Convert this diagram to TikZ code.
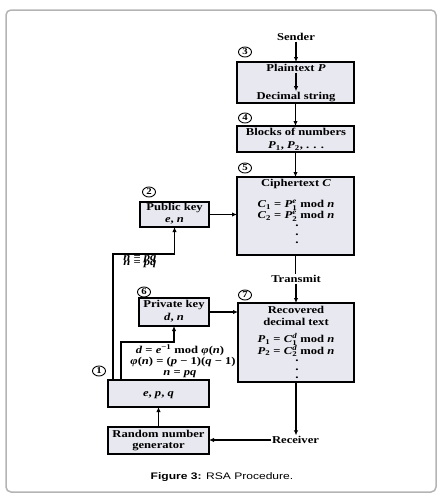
\documentclass[tikz,border=0pt]{standalone}
\usepackage{amsmath}
\usepackage{fontspec}
\setmainfont{Liberation Serif}[FakeStretch=1.2]
\newfontfamily\capfont{Liberation Sans}[FakeStretch=1.27]
\usetikzlibrary{arrows.meta,shapes.geometric}
\newcommand{\vi}[1]{\textbf{\textit{#1}}}
\definecolor{boxfill}{RGB}{232,232,240}
\definecolor{framegray}{RGB}{180,180,180}
\begin{document}
\begin{tikzpicture}[x=1pt,y=-1pt,
  every node/.style={font=\fontsize{10.5}{12}\selectfont\bfseries, inner sep=1pt, outer sep=0pt},
  box/.style={draw, line width=1.2pt, fill=boxfill},
  num/.style={draw, ellipse, line width=0.9pt, inner sep=0pt, minimum width=13pt, minimum height=10pt, font=\fontsize{9}{9}\selectfont\bfseries},
  arr/.style={-{Latex[length=5pt,width=4.5pt]}, line width=1.2pt},
  ln/.style={line width=1.2pt},
  dot/.style={inner sep=0pt, font=\fontsize{11}{11}\selectfont\bfseries}
]
\useasboundingbox (0,0) rectangle (443,498);
\draw[framegray, line width=1.5pt, rounded corners=5pt] (6,10) rectangle (436,492);

% boxes
\node[box, minimum width=117pt, minimum height=41pt] (A) at (295.5,82.5) {};
\node[box, minimum width=117pt, minimum height=26pt] (B) at (295.5,139) {};
\node[box, minimum width=117pt, minimum height=78pt] (cipher) at (295.5,216) {};
\node[box, minimum width=116pt, minimum height=79pt] (rec) at (296,342.5) {};
\node[box, minimum width=69pt, minimum height=25pt] (pub) at (174.5,214.5) {};
\node[box, minimum width=70pt, minimum height=28pt] (priv) at (174,312) {};
\node[box, minimum width=101pt, minimum height=27pt] (epq) at (158.5,393.5) {};
\node[box, minimum width=101pt, minimum height=27pt] (rng) at (158.5,440.5) {};

% texts
\node (sender) at (296,37) {Sender};
\node (pt) at (296,68) {Plaintext \vi{P}};
\node (ds) at (296,97) {Decimal string};
\node at (296,132) {Blocks of numbers};
\node at (296,146) {\vi{P}$_{\textbf{1}}$, \vi{P}$_{\textbf{2}}$, . . .};
\node at (296,184) {Ciphertext \vi{C}};
\node at (296,205) {\vi{C}$_{\textbf{1}}$ = \vi{P}$_{\textbf{1}}^{\vi{e}}$ mod \vi{n}};
\node at (296,216.5) {\vi{C}$_{\textbf{2}}$ = \vi{P}$_{\textbf{2}}^{\vi{e}}$ mod \vi{n}};
\node[dot] at (297,226) {.};
\node[dot] at (297,234.5) {.};
\node[dot] at (297,243) {.};
\node (transmit) at (296,279) {Transmit};
\node at (296,310) {Recovered};
\node at (296,322) {decimal text};
\node at (296,339.5) {\vi{P}$_{\textbf{1}}$ = \vi{C}$_{\textbf{1}}^{\vi{d}}$ mod \vi{n}};
\node at (296,351) {\vi{P}$_{\textbf{2}}$ = \vi{C}$_{\textbf{2}}^{\vi{d}}$ mod \vi{n}};
\node[dot] at (297,361) {.};
\node[dot] at (297,369.5) {.};
\node[dot] at (297,378) {.};
\node (recv) at (295.5,440) {Receiver};
\node at (174.5,208) {Public key};
\node at (174.5,221) {\vi{e}, \vi{n}};
\node at (174,305) {Private key};
\node at (174,318) {\vi{d}, \vi{n}};
\node at (140,259) {\vi{n} = \vi{pq}};
\node at (140,264) {\vi{n} = \vi{pq}};
\node at (180,350) {\vi{d} = \vi{e}\textsuperscript{\textbf{−1}} mod \vi{φ}(\vi{n})};
\node at (183,362) {\vi{φ}(\vi{n}) = (\vi{p} − 1)(\vi{q} − 1)};
\node at (180,374) {\vi{n} = \vi{pq}};
\node at (158.5,395) {\vi{e}, \vi{p}, \vi{q}};
\node at (158.5,434) {Random number};
\node at (158.5,447) {generator};

% numbered circles
\node[num] at (245,52) {3};
\node[num] at (245,118) {4};
\node[num] at (245,168) {5};
\node[num] at (149,192) {2};
\node[num] at (144,292) {6};
\node[num] at (245,295) {7};
\node[num] at (99,371) {1};

% connectors
\draw[arr] (sender.south) -- (sender.south |- A.north);
\draw[arr] (pt.south) -- (ds.north);
\draw[arr] (A.south) -- (B.north);
\draw[arr] (B.south) -- (cipher.north);
\draw[ln] (cipher.south) -- (cipher.south |- transmit.north);
\draw[arr] (transmit.south) -- (transmit.south |- rec.north);
\draw[arr] (pub.east) -- (pub.east -| cipher.west);
\draw[arr] (priv.east) -- (priv.east -| rec.west);
\draw[arr] (rec.south) -- (rec.south |- recv.north);
\draw[arr] (recv.west) -- (recv.west -| rng.east);
\draw[arr] (rng.north) -- (epq.south);
\coordinate (k1) at (113,254);
\draw[arr] (epq.north -| k1) -- (k1) -| (pub.south);
\coordinate (k2) at (121,342);
\draw[arr] (epq.north -| k2) -- (k2) -| (priv.south);

% caption
\node[font=\capfont\fontsize{9.5}{11}\selectfont] at (222,477) {\textbf{Figure 3:} RSA Procedure.};
\end{tikzpicture}
\end{document}
